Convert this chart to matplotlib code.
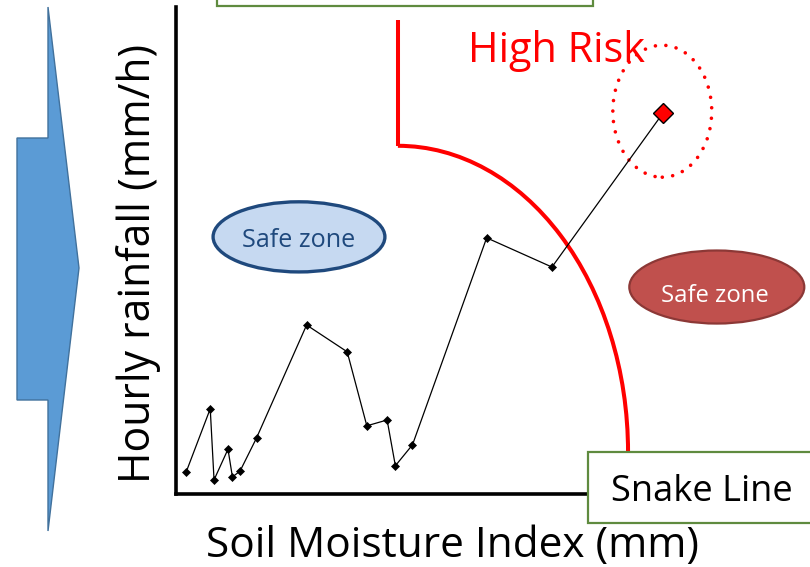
import matplotlib
matplotlib.use("Agg")
import matplotlib.pyplot as plt
from matplotlib.patches import Ellipse, Arc, Rectangle, Polygon

# observed track: soil moisture index vs hourly rainfall (arbitrary 0-100 scale)
soil_moisture = [1.6, 5.4, 6.0, 8.2, 8.9, 10.1, 12.7, 20.6, 27.0, 30.1, 33.3, 34.6, 37.3, 49.0, 59.3, 76.8]
rainfall = [4.5, 17.5, 2.9, 9.2, 3.5, 4.7, 11.5, 34.7, 29.2, 14.0, 15.2, 5.8, 10.1, 52.6, 46.6, 78.2]

# snake line: vertical drop then quarter ellipse down to the base
SNAKE_X = 35.0
SNAKE_TOP = 97.3
SNAKE_KNEE = 71.5
SNAKE_BASE = 8.6
SNAKE_RIGHT = 71.3

W, H = 810, 567


def fig_xy(x, y):
    # pixel position (origin top-left) -> figure fraction
    return x / W, 1 - y / H


fig = plt.figure(figsize=(W / 100, H / 100), dpi=100)
plt.rcParams["font.family"] = ["Open Sans", "DejaVu Sans"]

ax = fig.add_axes([176 / W, (H - 494) / H, (W - 176) / W, (494 - 7) / H])
ax.set_xlim(0, 100)
ax.set_ylim(0, 100)
ax.set_xticks([])
ax.set_yticks([])
for side in ["top", "right"]:
    ax.spines[side].set_visible(False)
for side in ["left", "bottom"]:
    ax.spines[side].set_linewidth(2.6)
    ax.spines[side].set_color("black")
    ax.spines[side].set_capstyle("projecting")

# data track
n = len(soil_moisture)
ax.plot(soil_moisture, rainfall, color="black", lw=0.9, marker="D", ms=4.4,
        mfc="black", mec="black", mew=0.5, markevery=list(range(n - 1)), zorder=4)
ax.plot(soil_moisture[-1], rainfall[-1], marker="D", ms=10, mfc="#ff0000",
        mec="black", mew=1.0, ls="none", zorder=5)

# snake line
ax.plot([SNAKE_X, SNAKE_X], [SNAKE_TOP, SNAKE_KNEE], color="#ff0000", lw=2.9,
        solid_capstyle="butt", zorder=3)
ax.add_patch(Arc((SNAKE_X, SNAKE_BASE), 2 * (SNAKE_RIGHT - SNAKE_X),
                 2 * (SNAKE_KNEE - SNAKE_BASE), theta1=0, theta2=90,
                 color="#ff0000", lw=2.9, zorder=3))

# dotted ring round the high-risk point
ring = Ellipse((76.7, 78.6), 15.6, 27.1, fill=False, edgecolor="#ff0000",
               lw=2.6, linestyle=(0, (0.01, 2.9)), zorder=3)
ring.set_capstyle("round")
ax.add_patch(ring)

# safe zone ellipses
ax.add_patch(Ellipse((19.4, 52.8), 27.1, 14.4, facecolor="#c6d9f1",
                     edgecolor="#1f497d", lw=2.4, zorder=2))
ax.text(19.3, 50.8, "Safe zone", color="#1f497d", fontsize=18.1,
        ha="center", va="baseline", zorder=3)
ax.add_patch(Ellipse((85.3, 42.5), 27.6, 15.0, facecolor="#c0504d",
                     edgecolor="#8c3836", lw=1.6, zorder=2, clip_on=False))
ax.text(85.0, 39.5, "Safe zone", color="white", fontsize=17.2,
        ha="center", va="baseline", zorder=3, clip_on=False)

ax.text(46.1, 88.7, "High Risk", color="#ff0000", fontsize=29.9,
        ha="left", va="baseline", zorder=3)

# axis labels
ax.set_xlabel("Soil Moisture Index (mm)", fontsize=30.5)
ax.xaxis.set_label_coords((452 - 176) / 634, (494 - 557) / 487)
ax.xaxis.label.set_va("baseline")
ax.set_ylabel("Hourly rainfall (mm/h)", fontsize=30.8)
ax.yaxis.set_label_coords((139 - 176) / 634, (494 - 263) / 487)
ax.yaxis.label.set_va("center")

# green title box cut off at the top
x0, y0 = fig_xy(217, 6)
fig.add_artist(Rectangle((x0, y0), (593 - 217) / W, 0.2, transform=fig.transFigure,
                         facecolor="white", edgecolor="#5f8b3f", lw=1.6, zorder=6))

# snake line label box
x0, y0 = fig_xy(588, 523)
fig.add_artist(Rectangle((x0, y0), (840 - 588) / W, (523 - 452) / H,
                         transform=fig.transFigure, facecolor="white",
                         edgecolor="#5f8b3f", lw=1.6, zorder=6))
tx, ty = fig_xy(702, 501)
fig.text(tx, ty, "Snake Line", fontsize=26.1, ha="center", va="baseline", zorder=7)

# blue arrow on the left
arrow_px = [(48, 7), (79, 268), (48, 531), (48, 400), (17, 400), (17, 138), (48, 138)]
fig.add_artist(Polygon([fig_xy(x, y) for x, y in arrow_px], closed=True,
                       transform=fig.transFigure, facecolor="#5b9bd5",
                       edgecolor="#41719c", lw=1.0, zorder=1))

fig.savefig("out.png", dpi=100)
